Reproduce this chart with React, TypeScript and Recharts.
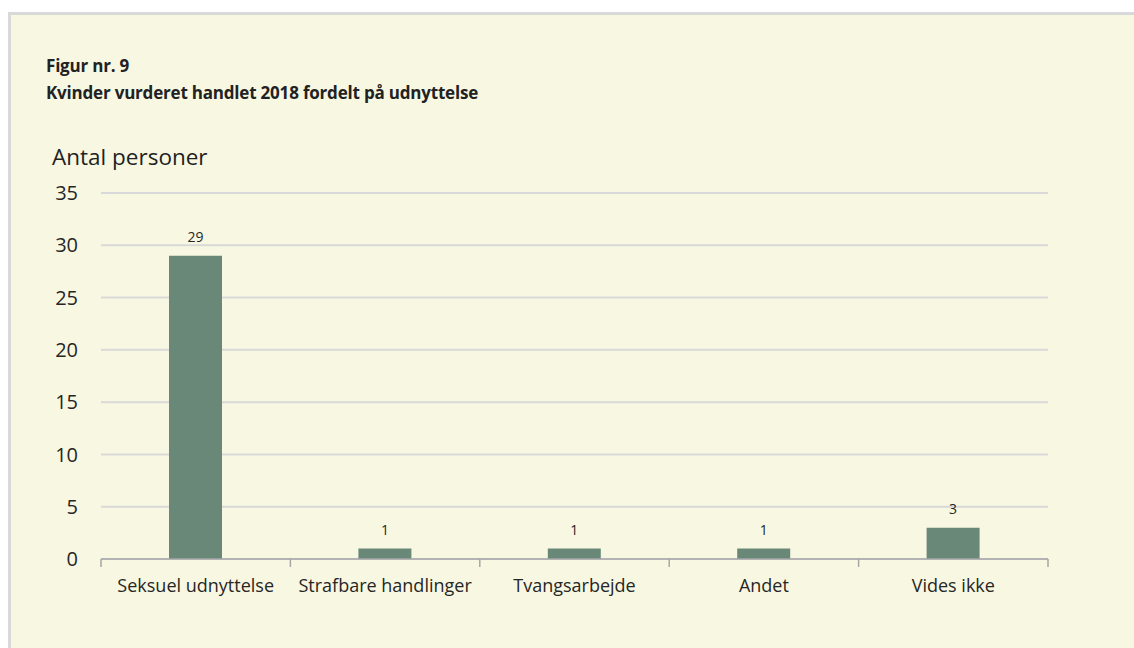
import React from 'react';
import { BarChart, Bar, XAxis, YAxis, CartesianGrid, LabelList } from 'recharts';

// Kategorier og værdier
const categories = ['Seksuel udnyttelse', 'Strafbare handlinger', 'Tvangsarbejde', 'Andet', 'Vides ikke'];
const persons = [29, 1, 1, 1, 3];
const yTicks = [0, 5, 10, 15, 20, 25, 30, 35];

const data = categories.map((name, i) => ({ name, value: persons[i] }));

const FONT = '"Open Sans", "Noto Sans", sans-serif';
const BG = '#F8F8E2';
const AXIS = '#A6A6A6';
const TICK_MARGIN = 20;

// Kategorilabel + små streger ved kategorigrænserne (som i Excel)
const CategoryTick = (props: any) => {
  const { x, y, payload, index, visibleTicksCount } = props;
  const half = payload.offset || 0;
  const axisY = y - TICK_MARGIN;
  const isLast = index === visibleTicksCount - 1;
  return (
    <g>
      <line x1={x - half} x2={x - half} y1={axisY} y2={axisY + 8} stroke={AXIS} strokeWidth={1.5} />
      {isLast && <line x1={x + half} x2={x + half} y1={axisY} y2={axisY + 8} stroke={AXIS} strokeWidth={1.5} />}
      <text x={x} y={y} dy="0.71em" textAnchor="middle" fill="#262626" fontSize={18} fontFamily={FONT}>
        {payload.value}
      </text>
    </g>
  );
};

const App: React.FC = () => {
  return (
    <div
      style={{
        position: 'fixed',
        left: 8,
        top: 12,
        width: 1123,
        height: 633,
        background: BG,
        borderTop: '3px solid #D9D9D9',
        borderLeft: '3px solid #D9D9D9',
        fontFamily: FONT,
        color: '#222',
        overflow: 'hidden',
      }}
    >
      <div style={{ position: 'absolute', left: 35, top: 41, fontSize: 17, fontWeight: 700, lineHeight: '20px', letterSpacing: -0.2 }}>
        Figur nr. 9
      </div>
      <div style={{ position: 'absolute', left: 35, top: 68, fontSize: 17, fontWeight: 700, lineHeight: '20px', letterSpacing: -0.2 }}>
        Kvinder vurderet handlet 2018 fordelt på udnyttelse
      </div>
      <div style={{ position: 'absolute', left: 41, top: 128, fontSize: 22.5, lineHeight: '28px', color: '#222' }}>
        Antal personer
      </div>
      <div style={{ position: 'absolute', left: 0, top: 0 }}>
        <BarChart
          width={1118}
          height={630}
          data={data}
          margin={{ top: 178, right: 81, bottom: 46, left: 50 }}
        >
          <CartesianGrid vertical={false} stroke="#D9D9D9" strokeWidth={2} />
          <XAxis
            dataKey="name"
            axisLine={{ stroke: AXIS, strokeWidth: 1.5 }}
            tickLine={false}
            tickSize={0}
            tickMargin={TICK_MARGIN}
            height={40}
            interval={0}
            tick={<CategoryTick />}
          />
          <YAxis
            domain={[0, 35]}
            ticks={yTicks}
            width={40}
            axisLine={false}
            tickLine={false}
            tickSize={0}
            tickMargin={23}
            tick={{ fill: '#262626', fontSize: 20, fontFamily: FONT }}
          />
          <Bar dataKey="value" fill="#6A8877" barSize={53} isAnimationActive={false}>
            <LabelList dataKey="value" position="top" offset={14} style={{ fill: '#262626', fontSize: 14, fontFamily: FONT }} />
          </Bar>
        </BarChart>
      </div>
    </div>
  );
};

export default App;
